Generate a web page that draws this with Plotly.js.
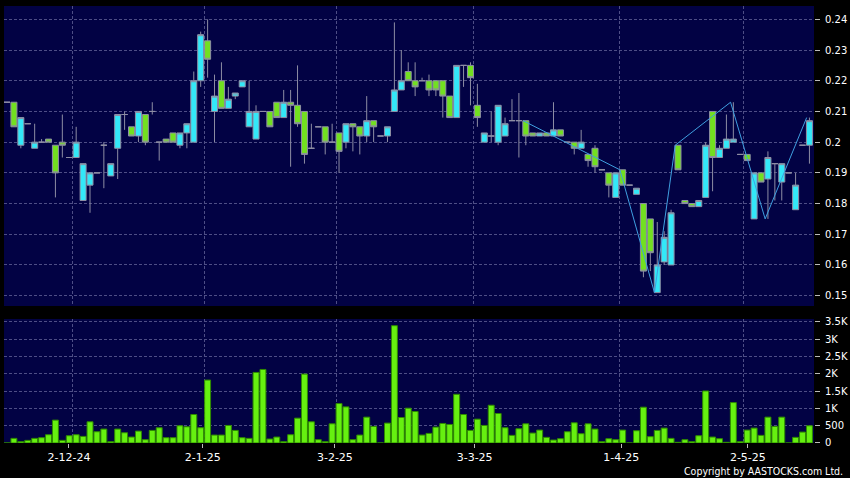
<!DOCTYPE html>
<html>
<head>
<meta charset="utf-8">
<script src="https://cdn.plot.ly/plotly-3.0.1.min.js"></script>
<style>
html,body{margin:0;padding:0;background:#000;}
#chart{width:850px;height:478px;}
</style>
</head>
<body>
<div id="chart"></div>
<script>
// ---- Data ----
const openP = [
0.213,0.213,0.199,0.206,0.198,0.2,0.201,0.199,0.2,0.195,
0.195,0.181,0.186,0.19,0.199,0.189,0.198,0.209,0.205,0.202,
0.209,0.21,0.2,0.201,0.203,0.199,0.203,0.2,0.22,0.233,
0.21,0.22,0.211,0.215,0.218,0.205,0.201,0.21,0.21,0.213,
0.208,0.213,0.212,0.21,0.198,0.205,0.205,0.2,0.203,0.2,
0.206,0.205,0.202,0.207,0.202,0.202,0.21,0.217,0.223,0.22,
0.22,0.22,0.22,0.22,0.215,0.208,0.225,0.225,0.212,0.2,
0.202,0.2,0.202,0.207,0.207,0.207,0.203,0.202,0.203,0.202,
0.204,0.2,0.2,0.198,0.196,0.198,0.191,0.19,0.182,0.191,
0.186,0.183,0.18,0.175,0.151,0.161,0.16,0.199,0.181,0.18,
0.179,0.182,0.21,0.195,0.198,0.2,0.196,0.196,0.175,0.19,
0.188,0.193,0.187,0.19,0.178,0.199,0.199];
const highP = [
0.213,0.213,0.208,0.206,0.206,0.201,0.201,0.199,0.209,0.195,
0.205,0.193,0.19,0.19,0.2,0.193,0.209,0.21,0.205,0.21,
0.209,0.213,0.2,0.201,0.203,0.203,0.206,0.223,0.236,0.240,
0.222,0.226,0.218,0.216,0.22,0.22,0.212,0.21,0.21,0.213,
0.217,0.217,0.225,0.21,0.206,0.205,0.205,0.206,0.203,0.206,
0.206,0.205,0.215,0.207,0.202,0.205,0.239,0.23,0.226,0.226,
0.221,0.222,0.22,0.22,0.215,0.225,0.225,0.226,0.219,0.203,
0.21,0.212,0.208,0.214,0.216,0.207,0.203,0.203,0.203,0.213,
0.204,0.2,0.2,0.204,0.196,0.199,0.191,0.19,0.19,0.191,
0.186,0.185,0.18,0.175,0.174,0.171,0.178,0.199,0.181,0.18,
0.181,0.2,0.21,0.199,0.209,0.213,0.196,0.196,0.19,0.19,
0.197,0.193,0.193,0.19,0.19,0.199,0.208];
const lowP = [
0.213,0.205,0.198,0.206,0.198,0.2,0.2,0.182,0.195,0.195,
0.195,0.181,0.177,0.19,0.185,0.189,0.188,0.204,0.202,0.2,
0.199,0.209,0.194,0.2,0.2,0.198,0.198,0.2,0.218,0.221,
0.2,0.211,0.211,0.214,0.218,0.205,0.201,0.21,0.205,0.208,
0.208,0.192,0.205,0.193,0.198,0.205,0.196,0.2,0.19,0.198,
0.197,0.196,0.2,0.2,0.202,0.2,0.21,0.217,0.22,0.215,
0.22,0.215,0.215,0.208,0.208,0.208,0.218,0.212,0.205,0.2,
0.2,0.199,0.202,0.207,0.195,0.199,0.202,0.202,0.202,0.202,
0.202,0.2,0.196,0.198,0.192,0.19,0.191,0.182,0.182,0.186,
0.186,0.183,0.156,0.158,0.151,0.16,0.16,0.191,0.18,0.179,
0.179,0.182,0.184,0.195,0.198,0.2,0.196,0.194,0.175,0.187,
0.175,0.181,0.181,0.19,0.178,0.199,0.193];
const closeP = [
0.213,0.205,0.208,0.206,0.2,0.2,0.2,0.19,0.199,0.195,
0.2,0.193,0.19,0.19,0.199,0.193,0.209,0.209,0.202,0.21,
0.2,0.21,0.2,0.2,0.2,0.203,0.206,0.22,0.235,0.227,
0.215,0.211,0.214,0.216,0.22,0.21,0.21,0.21,0.205,0.208,
0.213,0.212,0.206,0.196,0.198,0.205,0.2,0.2,0.197,0.206,
0.205,0.202,0.207,0.205,0.202,0.205,0.217,0.22,0.22,0.218,
0.22,0.217,0.217,0.215,0.208,0.225,0.225,0.221,0.208,0.203,
0.202,0.212,0.206,0.207,0.207,0.202,0.202,0.203,0.202,0.204,
0.202,0.2,0.198,0.2,0.194,0.192,0.191,0.186,0.19,0.186,
0.186,0.185,0.158,0.164,0.16,0.169,0.177,0.191,0.18,0.179,
0.181,0.199,0.195,0.198,0.201,0.201,0.196,0.194,0.19,0.187,
0.195,0.193,0.193,0.19,0.186,0.199,0.207];
const volume = [
0,134,38,76,134,153,239,660,76,210,
239,191,612,325,402,38,402,296,172,344,
96,363,440,153,153,497,468,822,440,1816,
229,229,507,363,153,134,2036,2122,115,172,
38,239,717,1988,612,96,38,554,1138,1042,
96,229,746,478,0,574,3384,736,1004,908,
229,277,459,564,535,1405,822,363,688,507,
1090,851,440,220,411,554,287,373,163,86,
124,325,583,268,554,402,38,124,96,373,
0,354,1033,182,363,430,134,20,96,38,
210,1501,172,124,20,1166,38,373,430,220,
746,478,746,0,163,315,497];
// zigzag indicator: trading-day index and value of each turning point
const zigzagDay = [75, 89, 94, 97, 105, 110, 116];
const zigzagVal = [0.207, 0.191, 0.151, 0.199, 0.213, 0.175, 0.208];
// date axis labels (position in trading days) and month grid lines
const dateTickPos = [8.96, 28.3, 47.4, 67.6, 88.8, 107.1];
const dateTickText = ['2-12-24', '2-1-25', '3-2-25', '3-3-25', '1-4-25', '2-5-25'];
const monthGridPos = [9.5, 28.5, 47.6, 67.5, 88.6, 106.5];
const volTickVals = [0, 500, 1000, 1500, 2000, 2500, 3000, 3500];
const volTickText = ['0', '500', '1K', '1.5K', '2K', '2.5K', '3K', '3.5K'];

// ---- Chart ----
const day = openP.map((_, i) => i);
const GRID = '#4e4e86';
const WICK = '#8e8ea4';
const XR = [-0.434, 116.66];
const tickFont = {family: 'DejaVu Sans, sans-serif', size: 10, color: '#ffffff'};

const candles = {
  type: 'candlestick', x: day, open: openP, high: highP, low: lowP, close: closeP,
  xaxis: 'x', yaxis: 'y', whiskerwidth: 0,
  increasing: {fillcolor: '#33e8f8', line: {color: WICK, width: 1}},
  decreasing: {fillcolor: '#72e020', line: {color: WICK, width: 1}},
  showlegend: false, hoverinfo: 'skip'
};
const zigzag = {
  type: 'scatter', mode: 'lines', x: zigzagDay.map(d => d - 0.4), y: zigzagVal,
  xaxis: 'x', yaxis: 'y', line: {color: '#3f9fe0', width: 1},
  showlegend: false, hoverinfo: 'skip'
};
const vol = {
  type: 'bar', x: day, y: volume, xaxis: 'x2', yaxis: 'y2',
  marker: {color: '#66f010', line: {color: '#2f8a00', width: 1}},
  showlegend: false, hoverinfo: 'skip'
};

const layout = {
  width: 850, height: 478,
  paper_bgcolor: '#000000', plot_bgcolor: '#020244',
  margin: {l: 4, r: 36, t: 6, b: 35},
  showlegend: false,
  boxgap: 0.13, boxgroupgap: 0, bargap: 0.14,
  xaxis: {
    domain: [0, 1], anchor: 'y', range: XR, rangeslider: {visible: false},
    tickmode: 'array', tickvals: monthGridPos, showticklabels: false, ticks: '',
    showgrid: true, gridcolor: GRID, griddash: '3px,2px', gridwidth: 1,
    zeroline: false, showline: false
  },
  yaxis: {
    domain: [0.3135, 1], anchor: 'x', side: 'right', range: [0.14664, 0.24434],
    tick0: 0.15, dtick: 0.01, ticks: 'outside', ticklen: 5, tickcolor: '#bbbbbb',
    ticklabelstandoff: 3, tickfont: tickFont,
    showgrid: true, gridcolor: GRID, griddash: '3px,2px', zeroline: false, showline: false
  },
  xaxis2: {
    domain: [0, 1], anchor: 'y2', range: XR,
    tickmode: 'array', tickvals: dateTickPos, ticktext: dateTickText,
    ticks: 'outside', ticklen: 4, tickcolor: '#bbbbbb',
    tickfont: {family: 'DejaVu Sans, sans-serif', size: 11, color: '#ffffff'},
    showgrid: false,
    minor: {tickmode: 'array', tickvals: monthGridPos, ticks: '', showgrid: true,
            gridcolor: GRID, griddash: '3px,2px', gridwidth: 1},
    zeroline: false, showline: false
  },
  yaxis2: {
    domain: [0, 0.2838], anchor: 'x2', side: 'right', range: [0, 3578],
    tickmode: 'array', tickvals: volTickVals, ticktext: volTickText,
    ticks: 'outside', ticklen: 5, tickcolor: '#bbbbbb', ticklabelstandoff: 3,
    tickfont: tickFont,
    showgrid: true, gridcolor: GRID, griddash: '3px,2px', zeroline: false, showline: false
  },
  annotations: [{
    text: 'Copyright by AASTOCKS.com Ltd.', xref: 'paper', yref: 'paper',
    x: 1.037, y: -0.0805, xanchor: 'right', yanchor: 'bottom', showarrow: false,
    borderpad: 0,
    font: {family: 'DejaVu Sans Condensed, Liberation Sans Narrow, Liberation Sans, sans-serif', size: 10.5, color: '#ffffff'}
  }]
};

Plotly.newPlot('chart', [candles, zigzag, vol], layout, {displayModeBar: false, staticPlot: true});
</script>
</body>
</html>
